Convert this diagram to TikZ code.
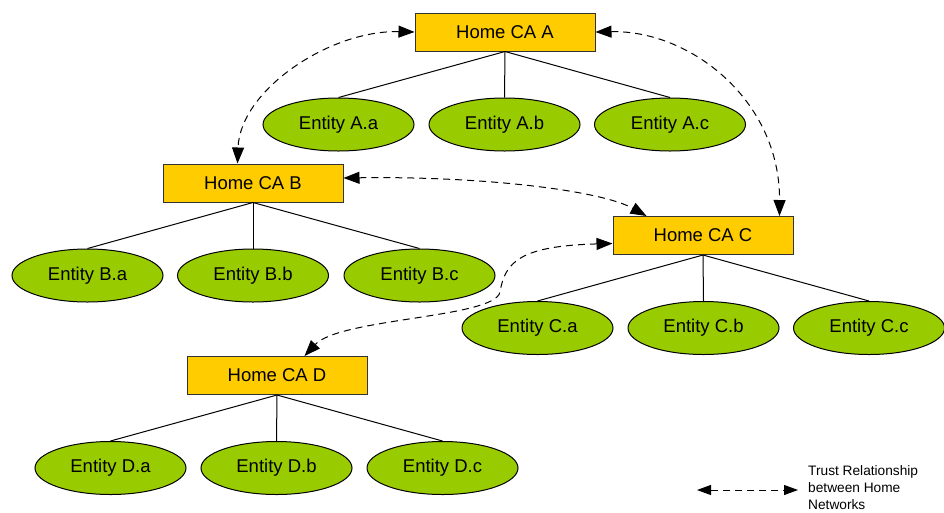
\documentclass[tikz,border=0pt]{standalone}
\usepackage{fontspec}
\setmainfont{Liberation Sans}
\usetikzlibrary{arrows.meta,shapes.geometric,calc}
\definecolor{cabox}{HTML}{FFCC00}
\definecolor{entfill}{HTML}{99CC00}
\tikzset{
  cabox/.style={draw=black!80,fill=cabox,line width=1pt,minimum width=180pt,minimum height=38pt,inner sep=0pt,font=\fontsize{18.5}{20}\selectfont},
  entity/.style={ellipse,draw=black,fill=entfill,line width=1pt,minimum width=151pt,minimum height=53pt,inner sep=0pt,font=\fontsize{18.5}{20}\selectfont},
  link/.style={line width=1pt,black},
  trust/.style={line width=1pt,dash pattern=on 7pt off 5pt,{Triangle[length=16pt,width=12pt]}-{Triangle[length=16pt,width=12pt]}},
}
\begin{document}
\begin{tikzpicture}[x=1pt,y=-1pt]
\useasboundingbox (0,0) rectangle (944,512);
% CA nodes
\node[cabox] (A) at (505,32) {Home CA A};
\node[cabox] (B) at (253,183) {Home CA B};
\node[cabox] (C) at (703,235.5) {Home CA C};
\node[cabox] (D) at (277,375.5) {Home CA D};
% entities
\node[entity] (Aa) at (338.5,124.5) {Entity A.a};
\node[entity] (Ab) at (504.5,124.5) {Entity A.b};
\node[entity] (Ac) at (670,124.5) {Entity A.c};
\node[entity] (Ba) at (87.5,275.5) {Entity B.a};
\node[entity] (Bb) at (253,275.5) {Entity B.b};
\node[entity] (Bc) at (419.5,275.5) {Entity B.c};
\node[entity] (Ca) at (537.5,328) {Entity C.a};
\node[entity] (Cb) at (703.5,328) {Entity C.b};
\node[entity] (Cc) at (869,328) {Entity C.c};
\node[entity] (Da) at (110.5,468) {Entity D.a};
\node[entity] (Db) at (276.5,468) {Entity D.b};
\node[entity] (Dc) at (442.5,468) {Entity D.c};
% tree links
\foreach \p in {A,B,C,D}{
  \foreach \c in {a,b,c}{
    \draw[link] (\p.south) -- (\p\c.north);
  }
}
% trust relationships
\draw[trust] (A.west) .. controls (330,30) and (240,90) .. ($(B.north west)+(75,0)$);
\draw[trust] (A.east) .. controls (690,30) and (780,100) .. ($(C.north east)+(-14,0)$);
\draw[trust] ($(B.east)+(0,-5)$) .. controls (480,176) and (600,190) .. ($(C.north west)+(34,0)$);
\draw[trust] ($(C.west)+(0,8)$) .. controls (520,246) and (505,262) .. (500,292)
  .. controls (495,318) and (340,318) .. ($(D.north west)+(118,0)$);
% legend
\coordinate (L1) at (697,490);
\coordinate (L2) at (798,490);
\draw[trust,{Triangle[length=14pt,width=10pt]}-{Triangle[length=14pt,width=10pt]}] (L1) -- (L2);
\node[anchor=west,align=left,inner sep=0pt,font=\fontsize{13.7}{17}\selectfont] (legend) at (808,488) {Trust Relationship\\between Home\\Networks};
\end{tikzpicture}
\end{document}
